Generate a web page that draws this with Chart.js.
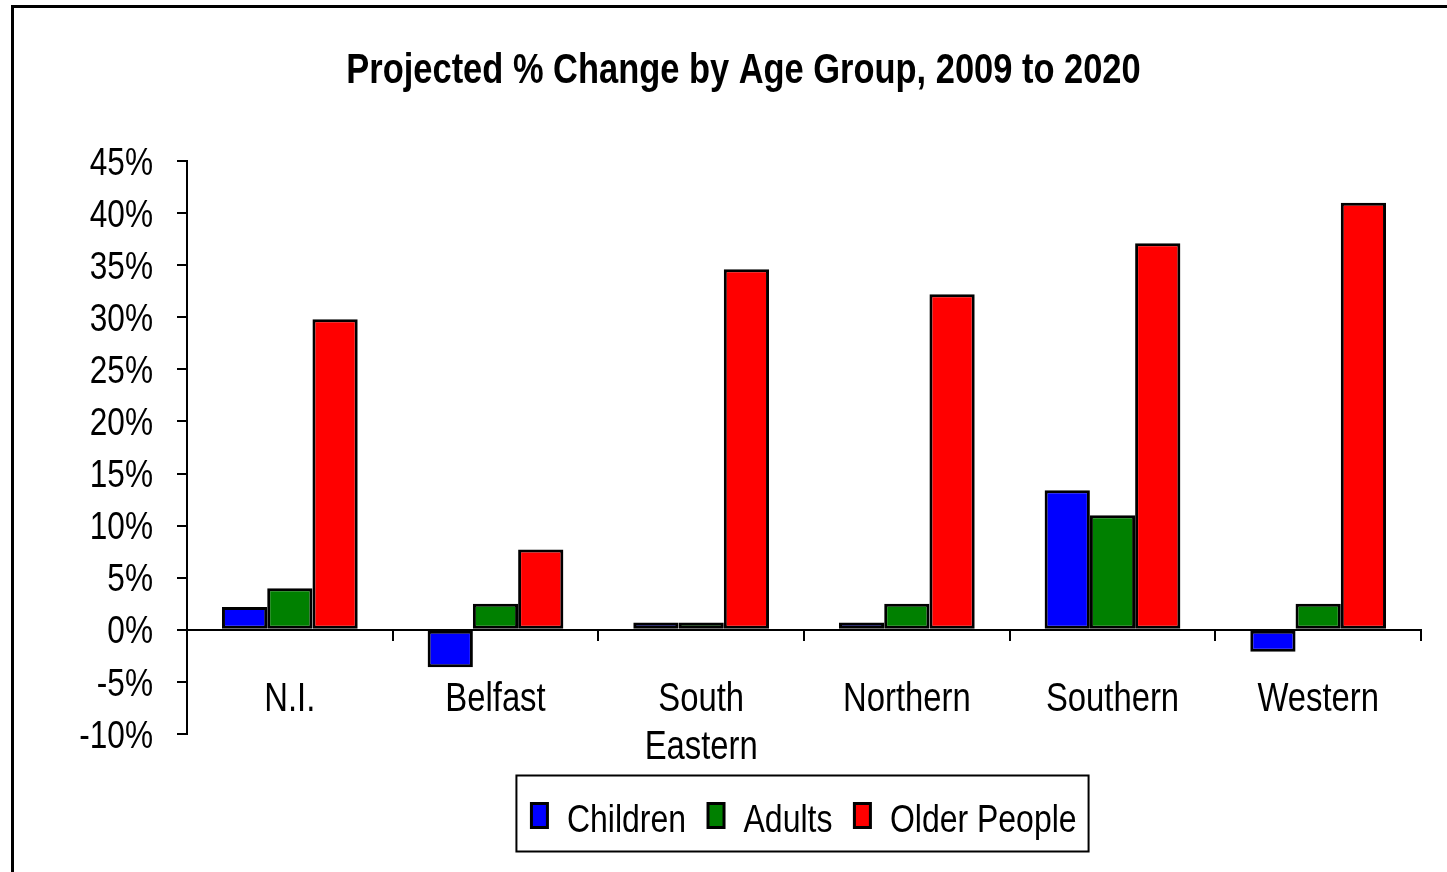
<!DOCTYPE html>
<html>
<head>
<meta charset="utf-8">
<script src="https://cdn.jsdelivr.net/npm/chart.js@4/dist/chart.umd.min.js"></script>
<style>
html,body{margin:0;padding:0;background:#fff;}
canvas{display:block;}
</style>
</head>
<body>
<canvas id="c" width="1447" height="872"></canvas>
<script>
const categories = ['N.I.', 'Belfast', ['South', 'Eastern'], 'Northern', 'Southern', 'Western'];
const children = [2.2, -3.6, 0.7, 0.7, 13.4, -2.1];
const adults = [4.0, 2.5, 0.7, 2.5, 11.0, 2.5];
const olderPeople = [29.8, 7.7, 34.6, 32.2, 37.1, 41.0];
const seriesNames = ['Children', 'Adults', 'Older People'];
const seriesColors = ['#0000FF', '#008000', '#FF0000'];
const yMin = -10, yMax = 45, yStep = 5;
const titleText = 'Projected % Change by Age Group, 2009 to 2020';

const FONT = '"Liberation Sans", Arial, sans-serif';
const NARROW = 0.82; // horizontal condensing to imitate Arial Narrow
const ALIGN_SHIFT = { right: 3, left: 6 }; // small vertical nudges (y-tick labels, legend labels)

const canvas = document.getElementById('c');
const ctx2d = canvas.getContext('2d');
const origFill = ctx2d.fillText.bind(ctx2d);
const origMeasure = ctx2d.measureText.bind(ctx2d);
ctx2d.fillText = function (text, x, y) {
  const dy = ALIGN_SHIFT[this.textAlign] || 0;
  this.save();
  this.translate(x, y + dy);
  this.scale(NARROW, 1);
  origFill(text, 0, 0);
  this.restore();
};
ctx2d.measureText = function (text) {
  const m = origMeasure(text);
  return {
    width: m.width * NARROW,
    actualBoundingBoxAscent: m.actualBoundingBoxAscent,
    actualBoundingBoxDescent: m.actualBoundingBoxDescent,
    actualBoundingBoxLeft: m.actualBoundingBoxLeft * NARROW,
    actualBoundingBoxRight: m.actualBoundingBoxRight * NARROW,
    fontBoundingBoxAscent: m.fontBoundingBoxAscent,
    fontBoundingBoxDescent: m.fontBoundingBoxDescent
  };
};

const frame = {
  id: 'frame',
  beforeDraw(chart) {
    const ctx = chart.ctx;
    ctx.save();
    ctx.fillStyle = '#fff';
    ctx.fillRect(0, 0, chart.width, chart.height);
    ctx.fillStyle = '#000';
    ctx.fillRect(11, 5, 3, chart.height);
    ctx.fillRect(11, 5, chart.width, 3);
    ctx.restore();
  },
  afterDraw(chart) {
    const lg = chart.legend;
    if (!lg || !lg.legendHitBoxes || !lg.legendHitBoxes.length) return;
    const hb = lg.legendHitBoxes;
    const left = hb[0].left - 15;
    const right = hb[hb.length - 1].left + hb[hb.length - 1].width + 12;
    const cy = hb[0].top + hb[0].height / 2;
    const ctx = chart.ctx;
    ctx.save();
    ctx.strokeStyle = '#000';
    ctx.lineWidth = 2;
    ctx.strokeRect(left, cy - 40, right - left, 76);
    ctx.restore();
  }
};

const datasets = [children, adults, olderPeople].map((d, i) => ({
  label: seriesNames[i],
  data: d,
  backgroundColor: seriesColors[i],
  borderColor: '#000',
  borderWidth: 3,
  borderSkipped: false,
  barPercentage: 1.0,
  categoryPercentage: 0.66
}));

new Chart(ctx2d, {
  type: 'bar',
  data: { labels: categories, datasets },
  plugins: [frame],
  options: {
    responsive: false,
    animation: false,
    devicePixelRatio: 1,
    layout: { padding: { left: 66, right: 26, top: 0, bottom: 27 } },
    scales: {
      x: {
        position: { y: 0 },
        grid: {
          display: true,
          offset: true,
          drawOnChartArea: false,
          drawTicks: true,
          tickLength: 10,
          color: '#000',
          lineWidth: 2
        },
        border: { display: true, color: '#000', width: 2 },
        ticks: {
          color: '#000',
          font: { family: FONT, size: 40, lineHeight: 1.18 },
          padding: 37,
          maxRotation: 0,
          autoSkip: false
        }
      },
      y: {
        position: 'left',
        min: yMin,
        max: yMax,
        afterFit(scale) { scale.width = 121; },
        grid: {
          display: true,
          drawOnChartArea: false,
          drawTicks: true,
          tickLength: 10,
          color: '#000',
          lineWidth: 2
        },
        border: { display: true, color: '#000', width: 2 },
        ticks: {
          stepSize: yStep,
          color: '#000',
          font: { family: FONT, size: 38.5 },
          padding: 24,
          callback: v => v + '%'
        }
      }
    },
    plugins: {
      tooltip: { enabled: false },
      title: {
        display: true,
        text: titleText,
        color: '#000',
        font: { family: FONT, size: 42, weight: 'bold', lineHeight: 1.2 },
        padding: { top: 46, bottom: 64.6 }
      },
      legend: {
        display: true,
        position: 'bottom',
        fullSize: false,
        title: { display: true, text: '', font: { size: 1, lineHeight: 1 }, padding: { top: 39, bottom: 0 } },
        labels: {
          color: '#000',
          font: { family: FONT, size: 39 },
          boxWidth: 16,
          boxHeight: 24,
          padding: 22
        }
      }
    }
  }
});
</script>
</body>
</html>
